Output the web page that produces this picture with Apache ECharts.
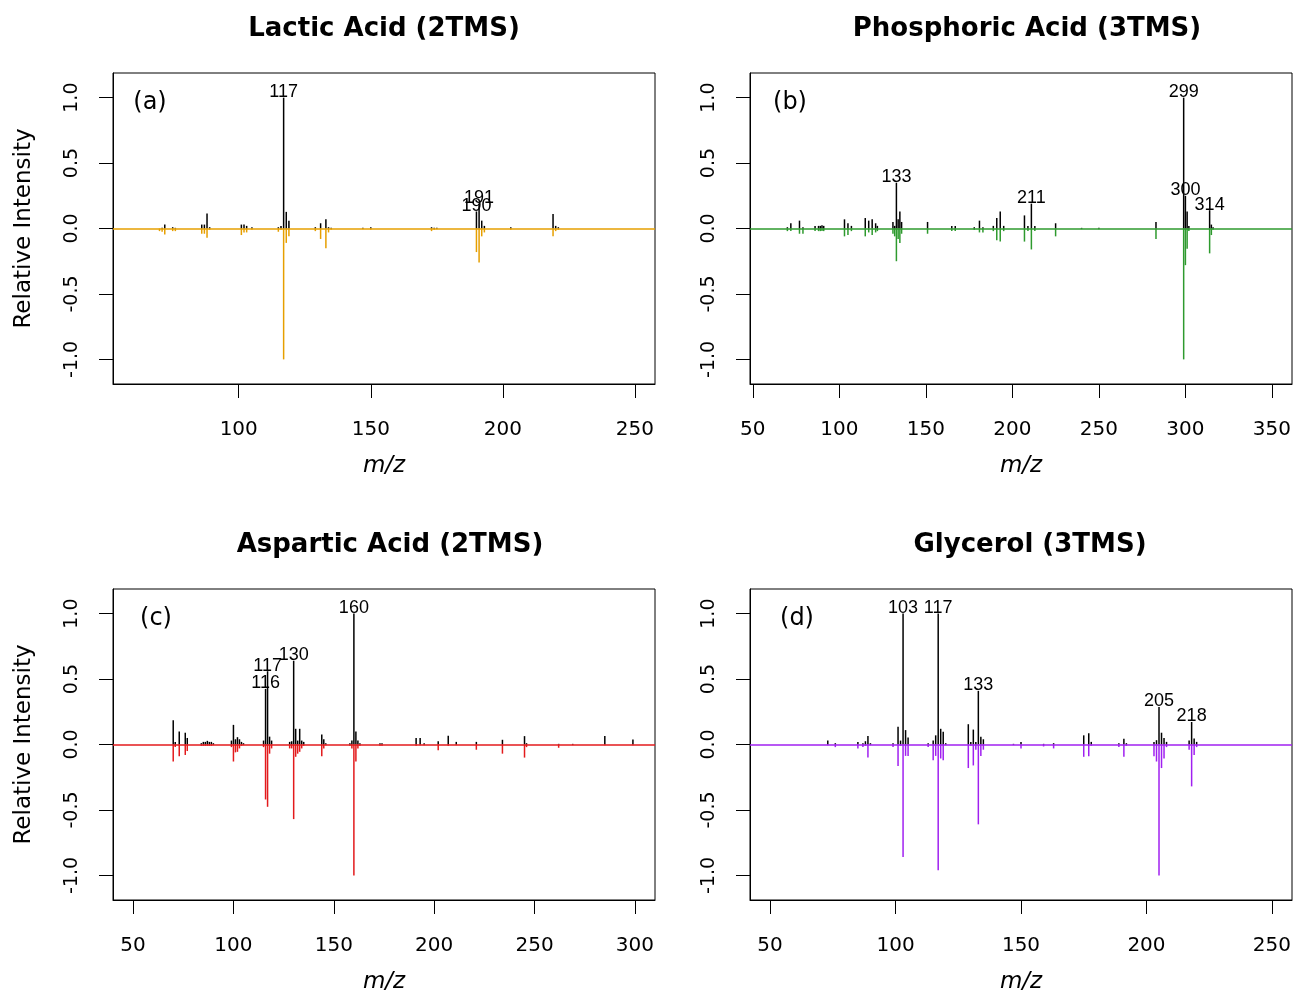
<!DOCTYPE html>
<html><head><meta charset="utf-8">
<script src="https://cdn.jsdelivr.net/npm/echarts@6/dist/echarts.min.js"></script>
<style>html,body{margin:0;padding:0;background:#fff}#c{width:1296px;height:992px}</style>
</head><body><div id="c"></div>
<script>
// ---------- DATA ----------
// (a) Lactic Acid (2TMS)
const lacticMz  = [70, 71, 72, 75, 76, 86, 87, 88, 89, 101, 102, 103, 105, 115, 116, 117, 118, 119, 129, 131, 133, 134, 135, 147, 150, 173, 174, 175, 190, 191, 192, 193, 203, 219, 220, 221];
const lacticExp = [0, 0.005, 0.03, 0.01, 0.005, 0.03, 0.03, 0.115, 0.01, 0.03, 0.03, 0.02, 0.01, 0.01, 0.02, 1.0, 0.127, 0.06, 0.01, 0.04, 0.07, 0.01, 0.005, 0.005, 0.01, 0.01, 0.005, 0.005, 0.13, 0.19, 0.06, 0.02, 0.01, 0.11, 0.02, 0.01];
const lacticRef = [0.02, 0.025, 0.046, 0.02, 0.02, 0.04, 0.04, 0.07, 0.01, 0.05, 0.03, 0.03, 0.01, 0.025, 0.01, 1.0, 0.11, 0.06, 0.02, 0.08, 0.15, 0.03, 0.01, 0.005, 0.01, 0.02, 0.01, 0.005, 0.18, 0.26, 0.06, 0.03, 0.01, 0.06, 0.02, 0.01];
const lacticLabels = [117, 190, 191];
const lacticRange = [60, 250];

// (b) Phosphoric Acid (3TMS)
const phosMz  = [70, 72, 77, 79, 86, 88, 89, 90, 91, 103, 105, 107, 115, 117, 119, 121, 122, 131, 132, 133, 134, 135, 136, 151, 165, 167, 178, 181, 183, 189, 191, 193, 195, 207, 209, 211, 213, 225, 240, 250, 283, 299, 300, 301, 302, 314, 315, 316];
const phosExp = [0.01, 0.04, 0.06, 0.01, 0.02, 0.02, 0.02, 0.025, 0.02, 0.07, 0.04, 0.02, 0.08, 0.06, 0.07, 0.04, 0.02, 0.05, 0.02, 0.35, 0.07, 0.13, 0.05, 0.05, 0.02, 0.02, 0.01, 0.06, 0.01, 0.02, 0.08, 0.13, 0.02, 0.10, 0.02, 0.19, 0.02, 0.04, 0.005, 0.005, 0.05, 1.0, 0.25, 0.13, 0.02, 0.14, 0.03, 0.01];
const phosRef = [0.02, 0.02, 0.04, 0.04, 0.02, 0.02, 0.02, 0.02, 0.02, 0.06, 0.05, 0.02, 0.06, 0.03, 0.05, 0.03, 0.02, 0.04, 0.06, 0.25, 0.08, 0.11, 0.04, 0.04, 0.02, 0.02, 0.01, 0.03, 0.03, 0.02, 0.09, 0.10, 0.02, 0.10, 0.02, 0.16, 0.02, 0.06, 0.005, 0.005, 0.08, 1.0, 0.28, 0.155, 0.02, 0.19, 0.05, 0.01];
const phosLabels = [133, 211, 299, 300, 314];
const phosRange = [60, 350];

// (c) Aspartic Acid (2TMS)
const aspMz  = [70, 71, 73, 76, 77, 84, 85, 86, 87, 88, 89, 90, 99, 100, 101, 102, 103, 104, 105, 115, 116, 117, 118, 119, 128, 129, 130, 131, 132, 133, 134, 135, 144, 145, 146, 158, 159, 160, 161, 162, 163, 173, 174, 191, 193, 195, 202, 207, 211, 221, 234, 245, 246, 262, 269, 285, 299];
const aspExp = [0.186, 0.02, 0.10, 0.09, 0.05, 0.01, 0.02, 0.02, 0.028, 0.02, 0.02, 0.01, 0.03, 0.15, 0.04, 0.056, 0.04, 0.02, 0.01, 0.03, 0.425, 0.56, 0.06, 0.03, 0.02, 0.025, 0.64, 0.12, 0.03, 0.12, 0.03, 0.02, 0.076, 0.04, 0.01, 0.01, 0.03, 1.0, 0.10, 0.03, 0.01, 0.01, 0.01, 0.05, 0.05, 0.01, 0.025, 0.066, 0.02, 0.02, 0.036, 0.064, 0.01, 0.005, 0.005, 0.064, 0.038];
const aspRef = [0.13, 0.02, 0.09, 0.08, 0.05, 0.01, 0.01, 0.01, 0.01, 0.01, 0.01, 0.005, 0.02, 0.13, 0.06, 0.056, 0.03, 0.01, 0.005, 0.02, 0.42, 0.476, 0.07, 0.03, 0.03, 0.03, 0.57, 0.094, 0.07, 0.056, 0.03, 0.01, 0.09, 0.03, 0.005, 0.01, 0.03, 1.0, 0.13, 0.03, 0.01, 0.01, 0.01, 0.01, 0.005, 0.005, 0.043, 0.01, 0.005, 0.04, 0.07, 0.10, 0.02, 0.025, 0.005, 0.005, 0.005];
const aspLabels = [116, 117, 130, 160];
const aspRange = [50, 300];

// (d) Glycerol (3TMS)
const glyMz  = [73, 76, 85, 87, 88, 89, 90, 99, 101, 102, 103, 104, 105, 113, 115, 116, 117, 118, 119, 120, 129, 130, 131, 132, 133, 134, 135, 147, 150, 159, 163, 175, 177, 178, 189, 191, 192, 203, 204, 205, 206, 207, 208, 217, 218, 219, 220];
const glyExp = [0.03, 0.01, 0.02, 0.01, 0.025, 0.064, 0.01, 0.01, 0.135, 0.03, 1.0, 0.11, 0.053, 0.01, 0.03, 0.07, 1.0, 0.12, 0.097, 0.01, 0.155, 0.02, 0.114, 0.02, 0.41, 0.06, 0.04, 0.005, 0.02, 0.005, 0.01, 0.07, 0.085, 0.02, 0.01, 0.043, 0.01, 0.02, 0.033, 0.287, 0.09, 0.05, 0.02, 0.03, 0.172, 0.046, 0.02];
const glyRef = [0.005, 0.02, 0.03, 0.02, 0.01, 0.10, 0.005, 0.02, 0.165, 0.01, 0.86, 0.087, 0.087, 0.02, 0.12, 0.087, 0.96, 0.107, 0.12, 0.005, 0.18, 0.01, 0.16, 0.04, 0.61, 0.087, 0.04, 0.005, 0.03, 0.015, 0.03, 0.094, 0.09, 0.01, 0.02, 0.094, 0.01, 0.09, 0.13, 1.0, 0.18, 0.107, 0.02, 0.04, 0.32, 0.08, 0.02];
const glyLabels = [103, 117, 133, 205, 218];
const glyRange = [50, 250];

const yTicks = [-1.0, -0.5, 0.0, 0.5, 1.0];
const yRange = [-1.1, 1.1];

// ---------- CHART ----------
const panels = [
  {title:'Lactic Acid (2TMS)', tag:'(a)', mz:lacticMz, exp:lacticExp, ref:lacticRef, labels:lacticLabels, range:lacticRange, xTicks:[100,150,200,250], color:'#E69F00', left:113, top:73, yName:true, titleX:384, tagX:150},
  {title:'Phosphoric Acid (3TMS)', tag:'(b)', mz:phosMz, exp:phosExp, ref:phosRef, labels:phosLabels, range:phosRange, xTicks:[50,100,150,200,250,300,350], color:'#2E9A2E', left:750, top:73, yName:false, titleX:1027, tagX:790},
  {title:'Aspartic Acid (2TMS)', tag:'(c)', mz:aspMz, exp:aspExp, ref:aspRef, labels:aspLabels, range:aspRange, xTicks:[50,100,150,200,250,300], color:'#E31A1C', left:113, top:589, yName:true, titleX:390, tagX:156},
  {title:'Glycerol (3TMS)', tag:'(d)', mz:glyMz, exp:glyExp, ref:glyRef, labels:glyLabels, range:glyRange, xTicks:[50,100,150,200,250], color:'#A020F0', left:750, top:589, yName:false, titleX:1030, tagX:797}
];

const PW = 542, PH = 311;
function ext(r){ const d = r[1]-r[0]; return [r[0]-0.04*d, r[1]+0.04*d]; }
const yExt = ext(yRange);

function makeRender(color, labels){
  return function(params, api){
    const x = api.value(0), y = api.value(1);
    const p0 = api.coord([x, 0]), p1 = api.coord([x, y]);
    const children = [{type:'line', shape:{x1:p0[0], y1:p0[1], x2:p1[0], y2:p1[1]}, style:{stroke:color, lineWidth:1.5}}];
    if (labels && labels.indexOf(x) >= 0 && y > 0) {
      children.push({type:'text', x:p1[0], y:p1[1]+3.5, z2:10,
        style:{text:String(x), fill:'#000', fontSize:18, fontFamily:'Liberation Sans', align:'center', verticalAlign:'bottom'}});
    }
    return {type:'group', children};
  };
}

const grid = [], xAxis = [], yAxis = [], series = [], graphic = [];
panels.forEach((p, i) => {
  grid.push({left:p.left, top:p.top, width:PW, height:PH, show:true, borderColor:'#000', borderWidth:1, backgroundColor:'transparent', containLabel:false, outerBoundsMode:'none'});
  const xe = ext(p.range);
  xAxis.push({type:'value', gridIndex:i, min:xe[0], max:xe[1],
    axisLine:{show:true, onZero:false, lineStyle:{color:'#000', width:1}},
    axisTick:{show:true, length:14, inside:false, customValues:p.xTicks, lineStyle:{color:'#000', width:1}},
    axisLabel:{show:true, customValues:p.xTicks, color:'#000', fontSize:20, fontFamily:'DejaVu Sans', margin:36},
    splitLine:{show:false},
    name:'m/z', nameLocation:'middle', nameGap:71,
    nameTextStyle:{fontStyle:'italic', fontSize:23, fontFamily:'DejaVu Sans', color:'#000'}});
  yAxis.push({type:'value', gridIndex:i, min:yExt[0], max:yExt[1],
    axisLine:{show:true, onZero:false, lineStyle:{color:'#000', width:1}},
    axisTick:{show:true, length:14, inside:false, customValues:yTicks, lineStyle:{color:'#000', width:1}},
    axisLabel:{show:true, customValues:yTicks, rotate:90, color:'#000', fontSize:19, fontFamily:'DejaVu Sans', margin:31,
      formatter:v => v.toFixed(1)},
    splitLine:{show:false},
    name:p.yName ? 'Relative Intensity' : '', nameLocation:'middle', nameGap:77, nameRotate:90,
    nameTextStyle:{fontSize:23, fontFamily:'DejaVu Sans', color:'#000'}});
  series.push({type:'custom', xAxisIndex:i, yAxisIndex:i, clip:true,
    data:p.mz.map((m, k) => [m, -p.ref[k]]),
    renderItem:makeRender(p.color, null),
    markLine:{silent:true, symbol:['none','none'], label:{show:false}, animation:false,
      lineStyle:{color:p.color, width:1.5, type:'solid'}, data:[{yAxis:0}]}});
  series.push({type:'custom', xAxisIndex:i, yAxisIndex:i, clip:false,
    data:p.mz.map((m, k) => [m, p.exp[k]]),
    renderItem:makeRender('#000', p.labels)});
  graphic.push({type:'text', x:p.titleX, y:p.top-44, style:{text:p.title, fontSize:26, fontWeight:'bold', fontFamily:'DejaVu Sans', fill:'#000', align:'center', verticalAlign:'middle'}});
  graphic.push({type:'text', x:p.tagX, y:p.top+30, style:{text:p.tag, fontSize:24, fontFamily:'DejaVu Sans', fill:'#000', align:'center', verticalAlign:'middle'}});
});

const chart = echarts.init(document.getElementById('c'), null, {renderer:'canvas'});
chart.setOption({animation:false, backgroundColor:'#fff', grid, xAxis, yAxis, series, graphic});
</script>
</body></html>
